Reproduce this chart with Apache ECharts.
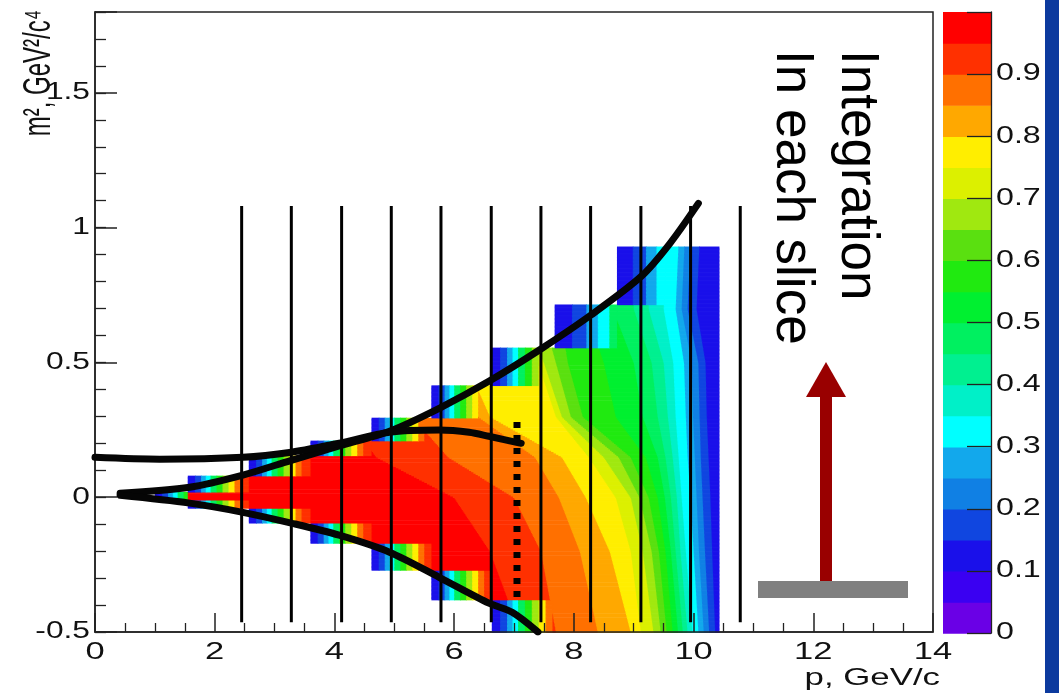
<!DOCTYPE html>
<html><head><meta charset="utf-8">
<script src="https://cdn.jsdelivr.net/npm/echarts/dist/echarts.min.js"></script>
<style>html,body{margin:0;padding:0;background:#fff}#c{width:1059px;height:693px}</style>
</head><body><div id="c"></div><script>
// ---------------- data ----------------
// tick labels
const xTickValues = [0, 2, 4, 6, 8, 10, 12, 14];
const yTickValues = [-0.5, 0, 0.5, 1, 1.5];
const zTickValues = [0, 0.1, 0.2, 0.3, 0.4, 0.5, 0.6, 0.7, 0.8, 0.9];

// filled region of the 2D map: steps in p with their m^2 range
const stepEdgesP   = [1.0, 1.55, 2.57, 3.6, 4.62, 5.62, 6.63, 7.68, 8.72, 10.42];
const stepTopM2    = [0.018, 0.078, 0.156, 0.211, 0.297, 0.415, 0.553, 0.716, 0.931];
const stepBottomM2 = [-0.012, -0.041, -0.093, -0.171, -0.271, -0.382, -0.5, -0.5, -0.5];
// colour ramp along p inside the edge strips of each step
const rampOffsetP = [0, 0.12, 0.22, 0.30, 0.38, 0.48, 0.58, 0.68, 0.78, 0.88];
const rampLevel   = [0.12, 0.18, 0.27, 0.33, 0.45, 0.57, 0.68, 0.77, 0.85, 0.92];
const sliverStretch = [1, 1, 1, 1, 1, 1, 1.15, 2.4, 2.2];

// iso-efficiency boundaries: p where each level ends, at these m^2 values
const isoM2 = [0.95, 0.7, 0.5, 0.3, 0.15, 0, -0.2, -0.5];
const iso95 = [2.5, 3.0, 3.5, 4.2, 4.7, 6.0, 6.6, 7.1];
const iso90 = [3.5, 4.0, 4.5, 5.3, 5.9, 7.0, 7.45, 7.7];
const iso85 = [4.5, 5.0, 5.6, 6.4, 7.35, 7.75, 8.1, 8.4];
const iso80 = [5.2, 5.8, 6.2, 6.6, 7.8, 8.2, 8.6, 8.95];
const iso75 = [6.6, 6.9, 7.4, 7.7, 8.25, 8.7, 8.95, 9.12];
const iso70 = [7.0, 7.15, 7.5, 7.8, 8.5, 8.95, 9.15, 9.33];
const iso65 = [7.4, 7.45, 7.7, 7.95, 8.75, 9.1, 9.3, 9.45];
const iso60 = [7.8, 7.75, 7.9, 8.15, 8.95, 9.25, 9.42, 9.55];
const iso55 = [8.2, 8.2, 8.5, 8.7, 9.2, 9.4, 9.53, 9.65];
const iso50 = [8.6, 8.65, 9.0, 9.15, 9.4, 9.52, 9.62, 9.74];
const iso45 = [8.95, 9.0, 9.3, 9.4, 9.53, 9.62, 9.7, 9.82];
const iso40 = [9.25, 9.25, 9.5, 9.57, 9.65, 9.72, 9.78, 9.9];
const iso35 = [9.55, 9.5, 9.66, 9.7, 9.75, 9.8, 9.87, 9.98];
const iso30 = [9.75, 9.7, 9.84, 9.87, 9.9, 9.95, 10.0, 10.08];
const iso25 = [9.85, 9.8, 9.97, 9.99, 10.02, 10.05, 10.09, 10.17];
const iso20 = [9.95, 9.9, 10.08, 10.1, 10.12, 10.15, 10.19, 10.26];
const iso15 = [10.1, 10.05, 10.2, 10.22, 10.25, 10.28, 10.31, 10.36];
const iso10 = [10.5, 10.5, 10.6, 10.6, 10.6, 10.6, 10.6, 10.6];
const isoLevels = [0.95, 0.9, 0.85, 0.8, 0.75, 0.7, 0.65, 0.6, 0.55, 0.5, 0.45, 0.4, 0.35, 0.3, 0.25, 0.2, 0.15, 0.1];
const isoLines = [iso95, iso90, iso85, iso80, iso75, iso70, iso65, iso60, iso55, iso50, iso45, iso40, iso35, iso30, iso25, iso20, iso15, iso10];

// black overlay curves
const upperCurveP  = [0.42, 1.58, 2.47, 3.28, 4.08, 4.92, 5.75, 6.58, 7.45, 8.28, 9.13, 9.6, 10.08];
const upperCurveM2 = [0.015, 0.037, 0.082, 0.137, 0.19, 0.245, 0.33, 0.43, 0.55, 0.675, 0.82, 0.94, 1.09];
const lowerCurveP  = [0.42, 1.58, 2.47, 3.28, 4.08, 4.92, 5.75, 6.58, 6.97, 7.4];
const lowerCurveM2 = [0.007, -0.022, -0.056, -0.096, -0.141, -0.204, -0.297, -0.393, -0.427, -0.5];
const flatCurveP   = [0.0, 1.08, 2.47, 3.28, 4.08, 4.92, 5.75, 6.25, 6.58, 7.12];
const flatCurveM2  = [0.148, 0.141, 0.148, 0.167, 0.2, 0.241, 0.249, 0.241, 0.226, 0.2];
// slice boundaries
const sliceLinesP = [2.45, 3.28, 4.12, 4.95, 5.78, 6.62, 7.45, 8.28, 9.12, 9.95, 10.78];
const sliceRangeM2 = [-0.464, 1.08];
const dottedLineP = [7.05];
const dottedRangeM2 = [-0.37, 0.30];

// ---------------- styles ----------------
const palette = ['#6a00e6','#3a00f2','#1a10ea','#1046e0','#1080e4','#12a8ec','#00ffff','#00f0c8','#00f090','#00f060',
                 '#00f030','#20ea10','#5ae010','#a0e810','#dcf000','#ffee00','#ffa800','#ff7000','#ff3000','#ff0000'];
const FONT = '"Liberation Sans", Arial, Helvetica, sans-serif';

// ---------------- build cells from the read boundaries ----------------
function isoAt(line, m) {
  if (m >= isoM2[0]) return line[0];
  for (let k = 0; k < isoM2.length - 1; k++) {
    if (m <= isoM2[k] && m >= isoM2[k + 1]) {
      const t = (isoM2[k] - m) / (isoM2[k] - isoM2[k + 1]);
      return line[k] + t * (line[k + 1] - line[k]);
    }
  }
  return line[line.length - 1];
}
function coreValue(p, m) {
  for (let k = 0; k < isoLevels.length; k++) if (p < isoAt(isoLines[k], m)) return isoLevels[k] + 0.025;
  return 0.075;
}
function rampValue(off, s) {
  let v = rampLevel[0];
  for (let k = 0; k < rampOffsetP.length; k++) if (off >= rampOffsetP[k] * s) v = rampLevel[k];
  return v;
}
function cellValue(p, m) {
  let i = -1;
  for (let k = 0; k < stepTopM2.length; k++) if (p >= stepEdgesP[k] && p < stepEdgesP[k + 1]) { i = k; break; }
  if (i < 0) return null;
  if (m > stepTopM2[i] || m < stepBottomM2[i]) return null;
  const core = coreValue(p, m);
  const sliver = i === 0 || m > stepTopM2[i - 1] || m < stepBottomM2[i - 1];
  if (!sliver) return core;
  return Math.min(core, rampValue(p - stepEdgesP[i], sliverStretch[i]));
}
const cells = [];
const dm = 0.005;
const nRows = Math.round((0.95 + 0.5) / dm);
for (let r = 0; r < nRows; r++) {
  const m0 = -0.5 + r * dm, m1 = m0 + dm, mc = (m0 + m1) / 2;
  let bp = stepEdgesP.slice();
  isoLines.forEach(l => bp.push(isoAt(l, mc)));
  for (let i = 0; i < stepTopM2.length; i++) rampOffsetP.forEach(o => bp.push(stepEdgesP[i] + o * sliverStretch[i]));
  const lo = stepEdgesP[0], hi = stepEdgesP[stepEdgesP.length - 1];
  bp = bp.filter(v => v >= lo && v <= hi).sort((a, b) => a - b);
  let cur = null;
  for (let k = 0; k < bp.length - 1; k++) {
    const a = bp[k], b = bp[k + 1];
    if (b - a < 1e-9) continue;
    const v = cellValue((a + b) / 2, mc);
    if (v === null) { if (cur) { cells.push(cur); cur = null; } continue; }
    if (cur && cur[4] === v && Math.abs(cur[1] - a) < 1e-9) cur[1] = b;
    else { if (cur) cells.push(cur); cur = [a, b, m0, m1, v]; }
  }
  if (cur) cells.push(cur);
}
const colorbarCells = palette.map((c, i) => [0, 1, i * 0.05, (i + 1) * 0.05, i * 0.05 + 0.025]);

function rectItem(params, api) {
  const a = api.coord([api.value(0), api.value(3)]);
  const b = api.coord([api.value(1), api.value(2)]);
  return { type: 'rect', shape: { x: a[0], y: a[1], width: b[0] - a[0] + 0.7, height: b[1] - a[1] + 0.7 },
           style: { fill: api.visual('color') } };
}

const chart = echarts.init(document.getElementById('c'), null, { renderer: 'canvas' });
const axisCol = '#222';
const option = {
  animation: false,
  backgroundColor: '#ffffff',
  grid: [
    { left: 95, right: 126, top: 12, bottom: 61, show: true, borderColor: axisCol, borderWidth: 1.5, backgroundColor: 'transparent' },
    { left: 943, width: 48, top: 12, bottom: 60 }
  ],
  xAxis: [
    { type: 'value', gridIndex: 0, min: 0, max: 14, interval: 2, z: 5,
      axisLine: { show: true, onZero: false, lineStyle: { color: axisCol, width: 1.5 } },
      axisTick: { show: true, inside: true, length: 19, lineStyle: { color: axisCol, width: 1.5 } },
      minorTick: { show: true, splitNumber: 4, length: 9, lineStyle: { color: axisCol, width: 1.3 } },
      axisLabel: { show: false }, splitLine: { show: false }, minorSplitLine: { show: false } },
    { type: 'value', gridIndex: 1, min: 0, max: 1, show: false }
  ],
  yAxis: [
    { type: 'value', gridIndex: 0, min: -0.5, max: 1.8, interval: 0.5, position: 'left', z: 5,
      axisLine: { show: true, onZero: false, lineStyle: { color: axisCol, width: 1.5 } },
      axisTick: { show: true, inside: true, length: 22, lineStyle: { color: axisCol, width: 1.5 } },
      axisLabel: { show: false }, splitLine: { show: false } },
    { type: 'value', gridIndex: 0, min: -0.5, max: 1.8, interval: 0.1, position: 'left', offset: 0, z: 5,
      axisLine: { show: false, onZero: false },
      axisTick: { show: true, inside: true, length: 11, lineStyle: { color: axisCol, width: 1.3 } },
      axisLabel: { show: false }, splitLine: { show: false } },
    { type: 'value', gridIndex: 1, min: 0, max: 1, interval: 0.1, position: 'right', z: 5,
      axisLine: { show: true, onZero: false, lineStyle: { color: axisCol, width: 1.3 } },
      axisTick: { show: true, inside: true, length: 24, lineStyle: { color: axisCol, width: 1.3 } },
      axisLabel: { show: false }, splitLine: { show: false } }
  ],
  visualMap: [{
    type: 'piecewise', show: false, dimension: 4, seriesIndex: [0, 1],
    pieces: palette.map((c, i) => ({ gte: i * 0.05 - 1e-9, lt: (i + 1) * 0.05 - 1e-9, color: c }))
  }],
  series: [
    { type: 'custom', name: 'efficiency', xAxisIndex: 0, yAxisIndex: 0, z: 1, progressive: 0,
      renderItem: rectItem, encode: { x: [0, 1], y: [2, 3] }, data: cells, silent: true },
    { type: 'custom', name: 'palette', xAxisIndex: 1, yAxisIndex: 2, z: 1,
      renderItem: rectItem, encode: { x: [0, 1], y: [2, 3] }, data: colorbarCells, silent: true },
    { type: 'custom', name: 'slices', xAxisIndex: 0, yAxisIndex: 0, z: 6,
      data: sliceLinesP.map(p => [p, sliceRangeM2[0], sliceRangeM2[1]]),
      renderItem: (params, api) => {
        const a = api.coord([api.value(0), api.value(1)]);
        const b = api.coord([api.value(0), api.value(2)]);
        return { type: 'line', shape: { x1: a[0], y1: a[1], x2: b[0], y2: b[1] }, style: { stroke: '#000', lineWidth: 3 } };
      } },
    { type: 'line', name: 'dotted', xAxisIndex: 0, yAxisIndex: 0, z: 7, symbol: 'none',
      data: [[dottedLineP[0], dottedRangeM2[0]], [dottedLineP[0], dottedRangeM2[1]]],
      lineStyle: { color: '#000', width: 7, type: [6, 7], cap: 'butt' } },
    { type: 'line', name: 'upper', xAxisIndex: 0, yAxisIndex: 0, z: 8, symbol: 'none', smooth: 0.3,
      data: upperCurveP.map((p, i) => [p, upperCurveM2[i]]), lineStyle: { color: '#050505', width: 7, cap: 'round' } },
    { type: 'line', name: 'lower', xAxisIndex: 0, yAxisIndex: 0, z: 8, symbol: 'none', smooth: 0.3,
      data: lowerCurveP.map((p, i) => [p, lowerCurveM2[i]]), lineStyle: { color: '#050505', width: 7, cap: 'round' } },
    { type: 'line', name: 'flat', xAxisIndex: 0, yAxisIndex: 0, z: 8, symbol: 'none', smooth: 0.3,
      data: flatCurveP.map((p, i) => [p, flatCurveM2[i]]), lineStyle: { color: '#050505', width: 7, cap: 'round' } }
  ]
};
chart.setOption(option);

// ---------------- text and annotations ----------------
const px = v => chart.convertToPixel({ xAxisIndex: 0 }, v);
const py = v => chart.convertToPixel({ yAxisIndex: 0 }, v);
const pz = v => chart.convertToPixel({ yAxisIndex: 2 }, v);
const g = [];
const lbl = (x, y, text, align, size, sx) => ({
  type: 'text', x: x, y: y, scaleX: sx, scaleY: 1, z: 20,
  style: { text: text, fill: '#111', font: size + 'px ' + FONT, textAlign: align, align: align,
           textVerticalAlign: 'middle', verticalAlign: 'middle' }
});
xTickValues.forEach(v => g.push(lbl(px(v), 653, String(v), 'center', 23, 1.5)));
yTickValues.forEach(v => g.push(lbl(90, py(v), String(v), 'right', 23, 1.38)));
zTickValues.forEach(v => g.push(lbl(996, pz(v), String(v), 'left', 23, 1.4)));
g.push(lbl(940, 678, 'p, GeV/c', 'right', 24, 1.45));
g.push({ type: 'text', x: 39, y: 10, rotation: Math.PI / 2, scaleX: 1, scaleY: 1.6, z: 20,
  style: { text: 'm², GeV²/c⁴', fill: '#111', font: '24px ' + FONT, textAlign: 'right', align: 'right',
           textVerticalAlign: 'middle', verticalAlign: 'middle' } });
// annotations
g.push({ type: 'text', x: 857, y: 50, rotation: -Math.PI / 2, z: 20,
  style: { text: 'Integration', fill: '#000', font: '53px ' + FONT, textAlign: 'left', align: 'left',
           textVerticalAlign: 'middle', verticalAlign: 'middle' } });
g.push({ type: 'text', x: 792, y: 50, rotation: -Math.PI / 2, z: 20,
  style: { text: 'In each slice', fill: '#000', font: '53px ' + FONT, textAlign: 'left', align: 'left',
           textVerticalAlign: 'middle', verticalAlign: 'middle' } });
g.push({ type: 'rect', z: 19, shape: { x: 820, y: 394, width: 12, height: 190 }, style: { fill: '#990000' } });
g.push({ type: 'polygon', z: 19, shape: { points: [[806, 397], [846, 397], [826, 362]] }, style: { fill: '#990000' } });
g.push({ type: 'rect', z: 19, shape: { x: 758, y: 581, width: 150, height: 17 }, style: { fill: '#808080' } });
g.push({ type: 'rect', z: 19, shape: { x: 1045, y: 0, width: 14, height: 693 }, style: { fill: '#0c3a9e' } });
chart.setOption({ graphic: { elements: g } });
</script></body></html>
